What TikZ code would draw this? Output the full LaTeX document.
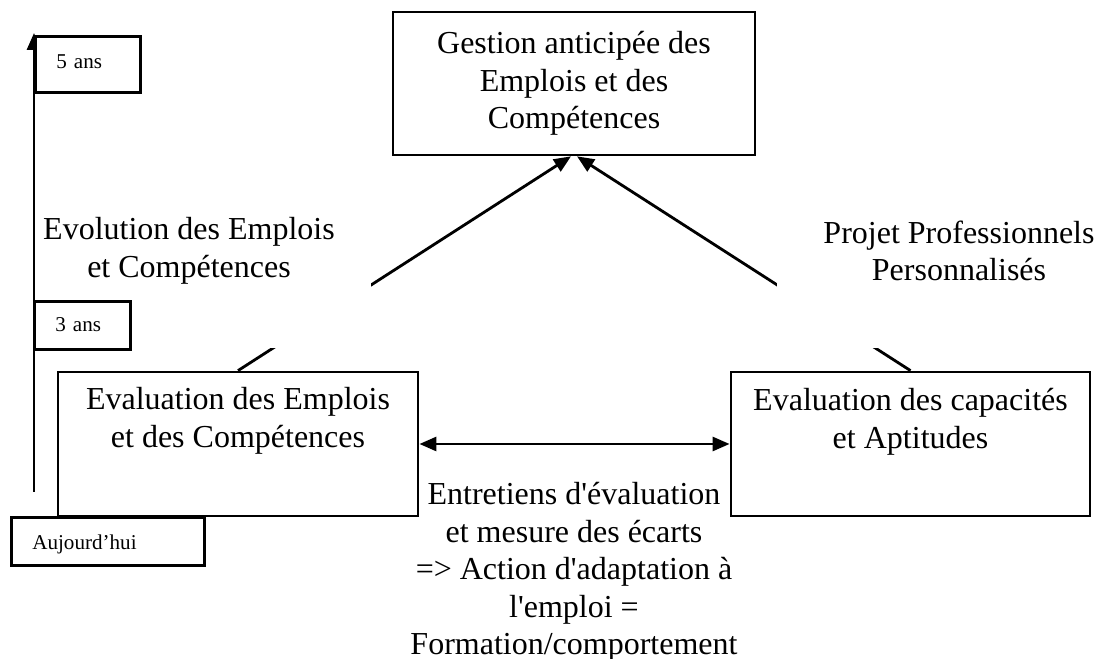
\documentclass[tikz,border=0pt]{standalone}
\usepackage{fontspec}
\setmainfont{Liberation Serif}
\usepackage{tikz}
\usetikzlibrary{arrows.meta,positioning}
\newcommand{\mainsize}{\fontsize{9.1}{10.67}\selectfont}
\newcommand{\yearsize}{\fontsize{6}{7}\selectfont}

\begin{document}
\begin{tikzpicture}[
    x=0.01cm, y=-0.01cm,
    bigbox/.style={rectangle, draw, fill=white, line width=0.75pt, font=\mainsize, align=center, inner sep=0pt},
    boxtext/.style={align=center, font=\mainsize, inner sep=0pt},
    cover/.style={rectangle, fill=white, font=\mainsize, align=center, inner sep=0pt, minimum width=3.64cm, minimum height=1.94cm},
    yearbox/.style={rectangle, draw, fill=white, line width=0.75pt, font=\yearsize, anchor=north west, align=left, inner xsep=0.21cm, inner ysep=0pt},
    arrow/.style={-{Triangle[length=0.17cm, width=0.14cm]}, line width=0.8pt},
    dblarrow/.style={{Triangle[length=0.17cm, width=0.14cm]}-{Triangle[length=0.17cm, width=0.14cm]}, line width=0.8pt}
]
    \useasboundingbox (0,0) rectangle (1101,659);

    % Top box
    \node[bigbox, minimum width=3.62cm, minimum height=1.43cm] (gaec) at (574,83.5) {Gestion anticipée des\\Emplois et des\\Compétences};

    % Evaluation boxes
    \node[bigbox, minimum width=3.60cm, minimum height=1.44cm] (evalemp) at (238,444) {};
    \node[boxtext, below=0.16cm of evalemp.north] (evalemptxt) {Evaluation des Emplois\\et des Compétences};
    \node[bigbox, minimum width=3.59cm, minimum height=1.44cm] (evalcap) at (910.5,444) {};
    \node[boxtext, below=0.17cm of evalcap.north] (evalcaptxt) {Evaluation des capacités\\et Aptitudes};

    % Arrows
    \draw[arrow] (evalemp.north) -- ([xshift=-0.03cm]gaec.south);
    \draw[arrow] (evalcap.north) -- ([xshift=0.03cm]gaec.south);
    \draw[dblarrow] (evalemp.east) -- (evalcap.west);

    % Labels
    \node[cover] (evolution) at (189,251) {Evolution des Emplois\\et Compétences};
    \node[cover] (projet) at (959,251) {Projet Professionnels\\Personnalisés};
    \node[boxtext] (entretiens) at (574,572) {Entretiens d\textquotesingle évaluation\\et mesure des écarts\\=> Action d\textquotesingle adaptation à\\l\textquotesingle emploi =\\Formation/comportement};

    % Time axis
    \coordinate (tlfoot) at (34,492);
    \coordinate (tltop) at (34,33);
    \draw[arrow] (tlfoot) -- (tltop);
    \node[yearbox, text width=0.63cm, text height=0.32cm, text depth=0.24cm] (cinqans) at (34,35) {5 ans};
    \node[yearbox, text width=0.54cm, text height=0.30cm, text depth=0.18cm] (troisans) at (33,300) {3 ans};
    \node[yearbox, text width=1.51cm, text height=0.32cm, text depth=0.16cm] (aujourdhui) at (10,516) {Aujourd’hui};
\end{tikzpicture}
\end{document}
